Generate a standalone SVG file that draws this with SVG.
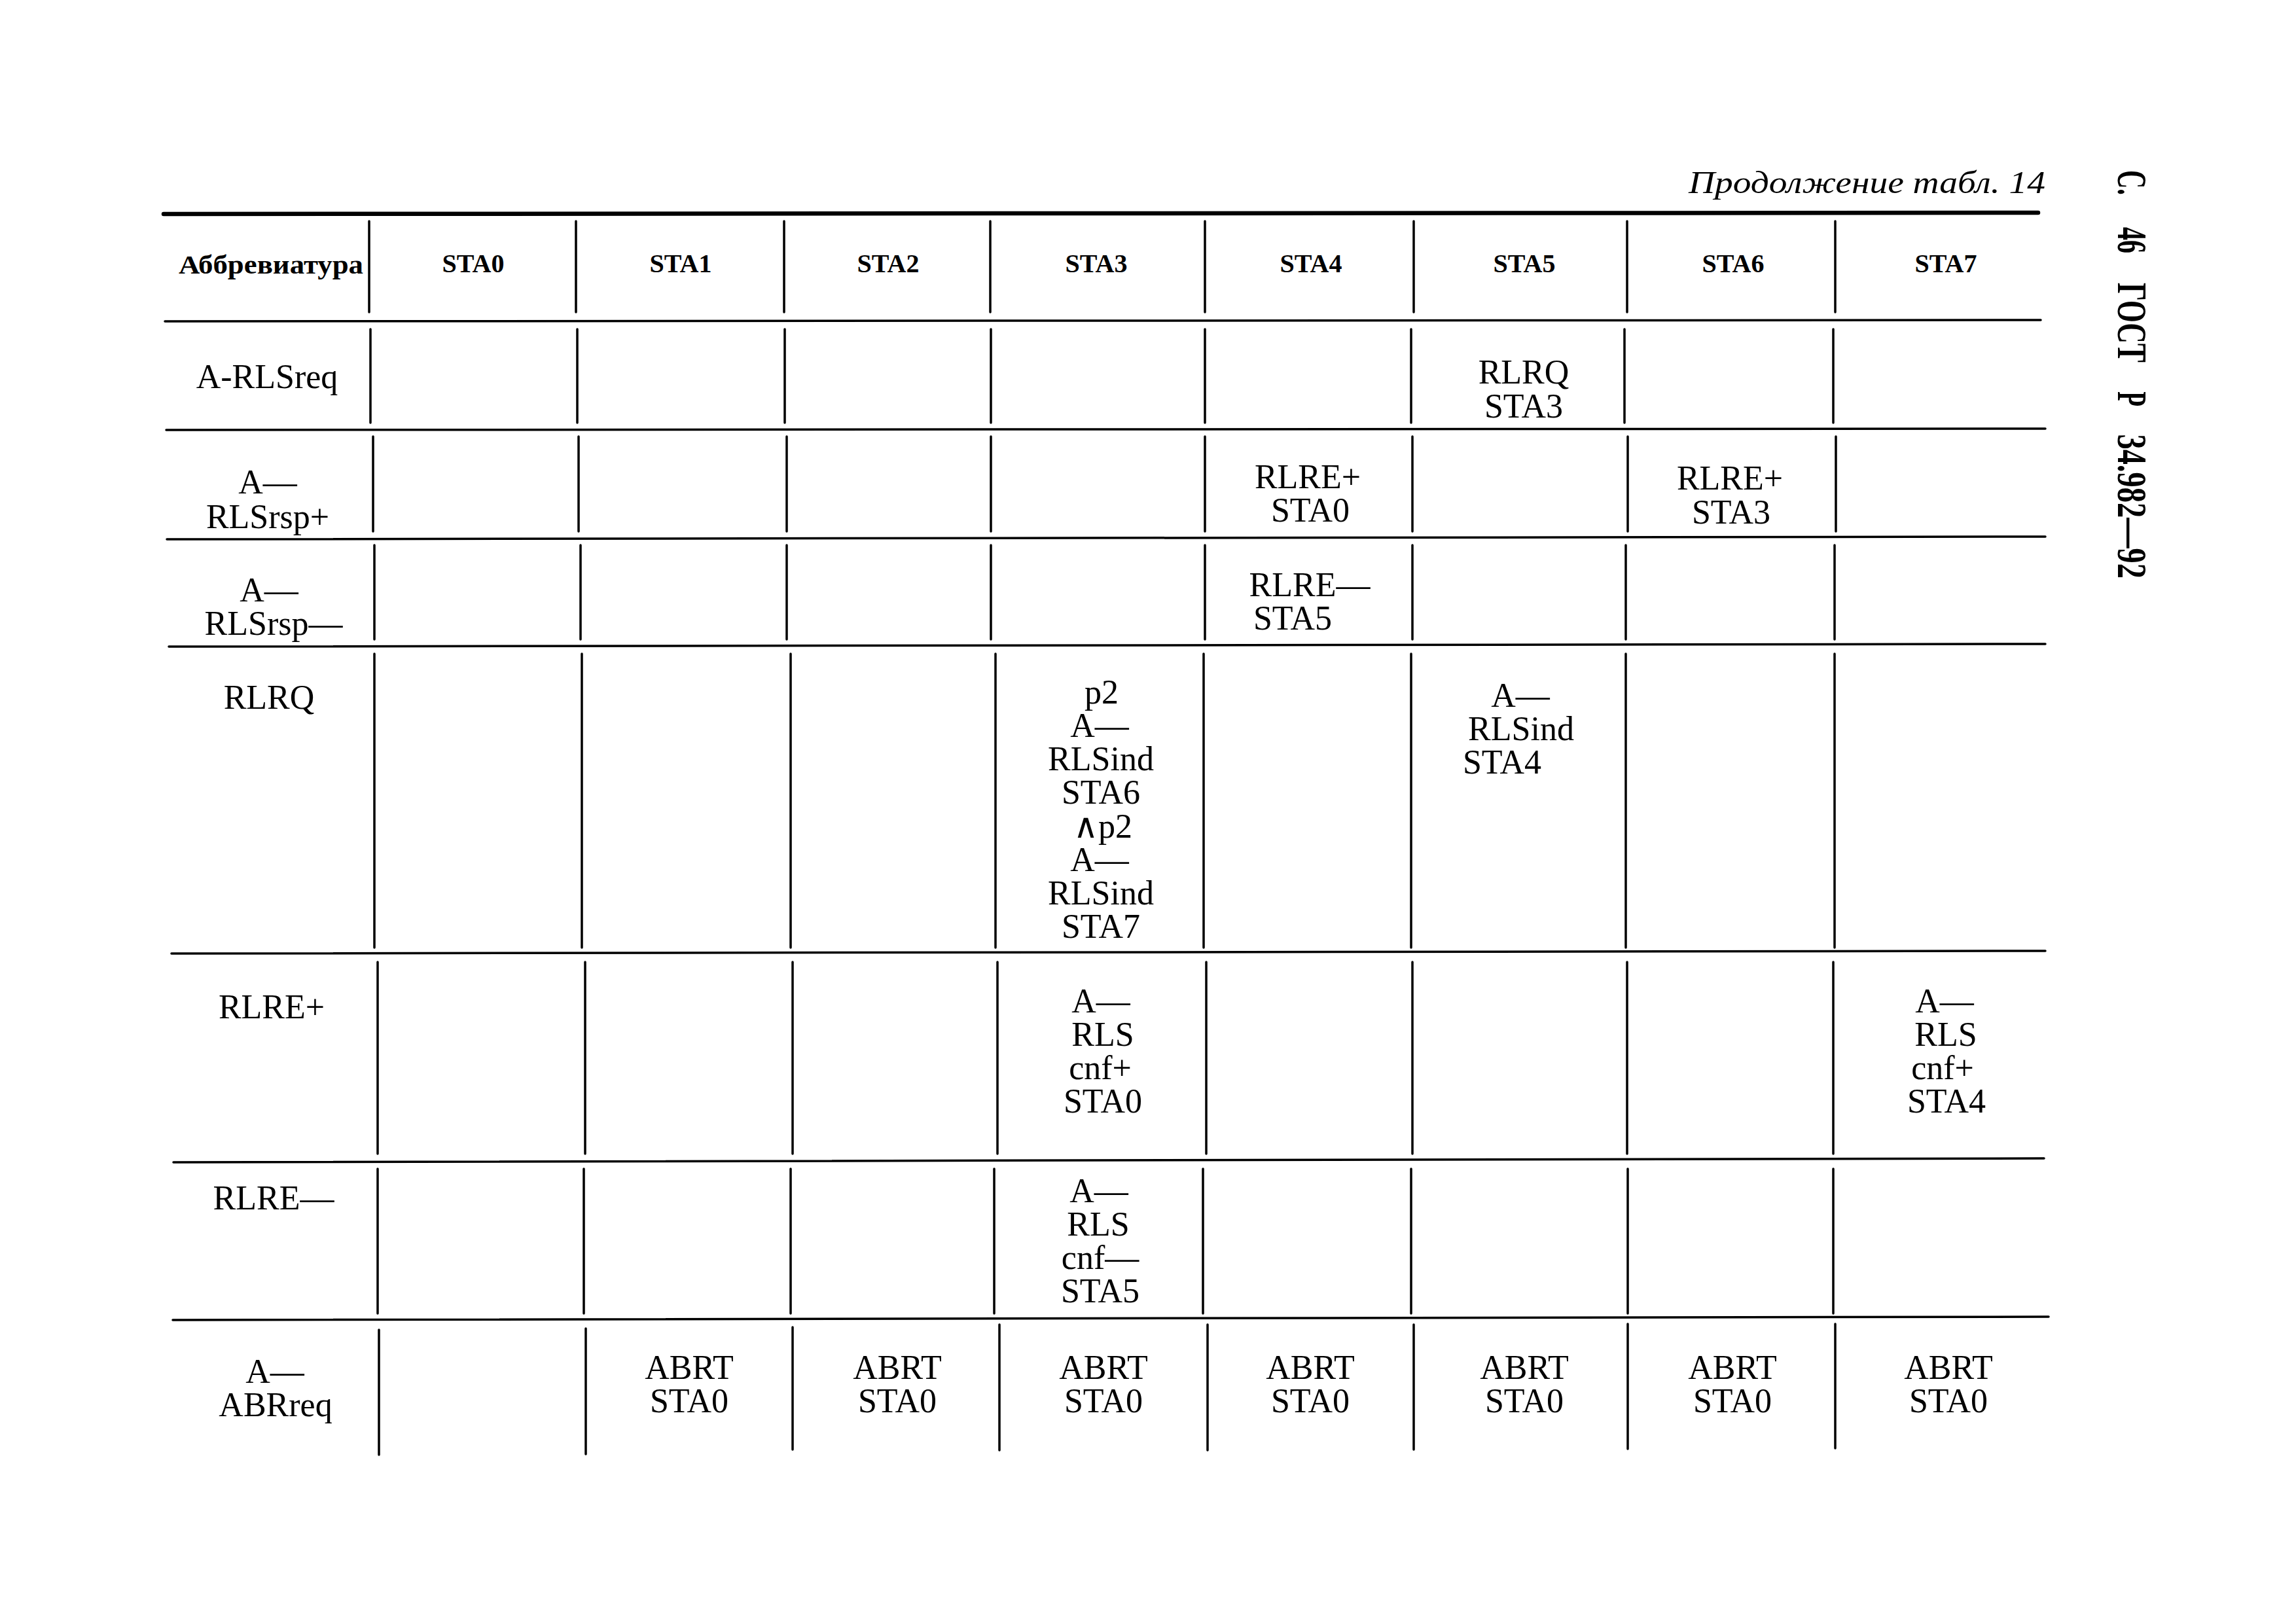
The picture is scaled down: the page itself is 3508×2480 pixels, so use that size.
<svg xmlns="http://www.w3.org/2000/svg" width="3508" height="2480" viewBox="0 0 3508 2480">
<style>
.g{stroke:#000;stroke-width:3.5;stroke-linecap:round;fill:none}
.thick{stroke-width:6.5}
.t{font-family:"Liberation Serif","DejaVu Serif",serif;font-size:52px;fill:#000;text-anchor:middle}
.h{font-family:"Liberation Serif","DejaVu Serif",serif;font-size:40px;font-weight:bold;fill:#000;text-anchor:middle}
.ti{font-family:"Liberation Serif","DejaVu Serif",serif;font-size:48px;font-style:italic;fill:#000;text-anchor:end}
.side{font-family:"Liberation Serif","DejaVu Serif",serif;font-size:64px;font-weight:bold;fill:#000}
</style>
<rect width="3508" height="2480" fill="#fff"/>

<g id="title">
<text class="ti" x="3125" y="295" textLength="545" lengthAdjust="spacingAndGlyphs">Продолжение табл. 14</text>
</g>
<g id="side-label">
<text class="side" transform="translate(3236,262) rotate(90)"><tspan x="-2" textLength="38" lengthAdjust="spacingAndGlyphs">С.</tspan><tspan x="75" textLength="50" lengthAdjust="spacingAndGlyphs"> 46</tspan><tspan x="159" textLength="133" lengthAdjust="spacingAndGlyphs"> ГОСТ</tspan><tspan x="327" textLength="32" lengthAdjust="spacingAndGlyphs"> Р</tspan><tspan x="390" textLength="232" lengthAdjust="spacingAndGlyphs"> 34.982—92</tspan></text>
</g>

<g id="grid-lines">
<path class="g thick" d="M250,327 L3114,325"/>
<path class="g" d="M252,491 L3118,489 M254,657 L3125,655 M255,824 L3125,820 M258,988 L3125,984 M262,1457 L3125,1453 M265,1776 L3123,1770 M264,2017 L3130,2012"/>
<path class="g" d="M564,338 V477 M880,338 V477 M1198,338 V477 M1513,338 V477 M1841,338 V477 M2160,338 V477 M2486,338 V477 M2804,338 V477"/>
<path class="g" d="M566,503 V646 M882,503 V646 M1199,503 V646 M1514,503 V646 M1841,503 V646 M2156,503 V646 M2482,503 V646 M2801,503 V646"/>
<path class="g" d="M570,667 V812 M884,667 V812 M1202,667 V812 M1514,667 V812 M1841,667 V812 M2158,667 V812 M2487,667 V812 M2805,667 V812"/>
<path class="g" d="M572,833 V977 M887,833 V977 M1202,833 V977 M1514,833 V977 M1841,833 V977 M2158,833 V977 M2484,833 V977 M2803,833 V977"/>
<path class="g" d="M572,999 V1448 M889,999 V1448 M1208,999 V1448 M1521,999 V1448 M1839,999 V1448 M2156,999 V1448 M2484,999 V1448 M2803,999 V1448"/>
<path class="g" d="M577,1470 V1763 M894,1470 V1763 M1211,1470 V1763 M1524,1470 V1763 M1843,1470 V1763 M2158,1470 V1763 M2486,1470 V1763 M2801,1470 V1763"/>
<path class="g" d="M577,1786 V2007 M892,1786 V2007 M1208,1786 V2007 M1519,1786 V2007 M1838,1786 V2007 M2156,1786 V2007 M2487,1786 V2007 M2801,1786 V2007"/>
<path class="g" d="M579,2032 V2223 M895,2030 V2222 M1211,2028 V2215 M1527,2024 V2216 M1845,2024 V2216 M2160,2024 V2215 M2487,2023 V2214 M2804,2023 V2213"/>
</g>

<g id="header">
<text class="h" x="414" y="418" textLength="282" lengthAdjust="spacingAndGlyphs">Аббревиатура</text>
<text class="h" x="723" y="416">STA0</text>
<text class="h" x="1040" y="416">STA1</text>
<text class="h" x="1357" y="416">STA2</text>
<text class="h" x="1675" y="416">STA3</text>
<text class="h" x="2003" y="416">STA4</text>
<text class="h" x="2329" y="416">STA5</text>
<text class="h" x="2648" y="416">STA6</text>
<text class="h" x="2973" y="416">STA7</text>
</g>

<g id="row-A-RLSreq">
<text class="t" x="408" y="593">A-RLSreq</text>
<text class="t" x="2328" y="586">RLRQ</text>
<text class="t" x="2328" y="638">STA3</text>
</g>

<g id="row-A-RLSrsp-plus">
<text class="t" x="409" y="754">A—</text>
<text class="t" x="409" y="807">RLSrsp+</text>
<text class="t" x="1998" y="746">RLRE+</text>
<text class="t" x="2002" y="797">STA0</text>
<text class="t" x="2643" y="748">RLRE+</text>
<text class="t" x="2645" y="800">STA3</text>
</g>

<g id="row-A-RLSrsp-minus">
<text class="t" x="411" y="919">A—</text>
<text class="t" x="418" y="970">RLSrsp—</text>
<text class="t" x="2001" y="911">RLRE—</text>
<text class="t" x="1975" y="962">STA5</text>
</g>

<g id="row-RLRQ">
<text class="t" x="411" y="1083">RLRQ</text>
<text class="t" x="1683" y="1075">p2</text>
<text class="t" x="1680" y="1126">A—</text>
<text class="t" x="1682" y="1177">RLSind</text>
<text class="t" x="1682" y="1228">STA6</text>
<text class="t" x="1685" y="1280">∧p2</text>
<text class="t" x="1680" y="1331">A—</text>
<text class="t" x="1682" y="1382">RLSind</text>
<text class="t" x="1682" y="1433">STA7</text>
<text class="t" x="2323" y="1080">A—</text>
<text class="t" x="2324" y="1131">RLSind</text>
<text class="t" x="2295" y="1182">STA4</text>
</g>

<g id="row-RLRE-plus">
<text class="t" x="415" y="1556">RLRE+</text>
<text class="t" x="1682" y="1547">A—</text>
<text class="t" x="1685" y="1598">RLS</text>
<text class="t" x="1681" y="1649">cnf+</text>
<text class="t" x="1685" y="1700">STA0</text>
<text class="t" x="2971" y="1547">A—</text>
<text class="t" x="2973" y="1598">RLS</text>
<text class="t" x="2968" y="1649">cnf+</text>
<text class="t" x="2974" y="1700">STA4</text>
</g>

<g id="row-RLRE-minus">
<text class="t" x="418" y="1848">RLRE—</text>
<text class="t" x="1679" y="1837">A—</text>
<text class="t" x="1678" y="1888">RLS</text>
<text class="t" x="1681" y="1939">cnf—</text>
<text class="t" x="1681" y="1990">STA5</text>
</g>

<g id="row-A-ABRreq">
<text class="t" x="420" y="2113">A—</text>
<text class="t" x="421" y="2164">ABRreq</text>
<text class="t" x="1053" y="2107">ABRT</text>
<text class="t" x="1053" y="2158">STA0</text>
<text class="t" x="1371" y="2107">ABRT</text>
<text class="t" x="1371" y="2158">STA0</text>
<text class="t" x="1686" y="2107">ABRT</text>
<text class="t" x="1686" y="2158">STA0</text>
<text class="t" x="2002" y="2107">ABRT</text>
<text class="t" x="2002" y="2158">STA0</text>
<text class="t" x="2329" y="2107">ABRT</text>
<text class="t" x="2329" y="2158">STA0</text>
<text class="t" x="2647" y="2107">ABRT</text>
<text class="t" x="2647" y="2158">STA0</text>
<text class="t" x="2977" y="2107">ABRT</text>
<text class="t" x="2977" y="2158">STA0</text>
</g>
</svg>
